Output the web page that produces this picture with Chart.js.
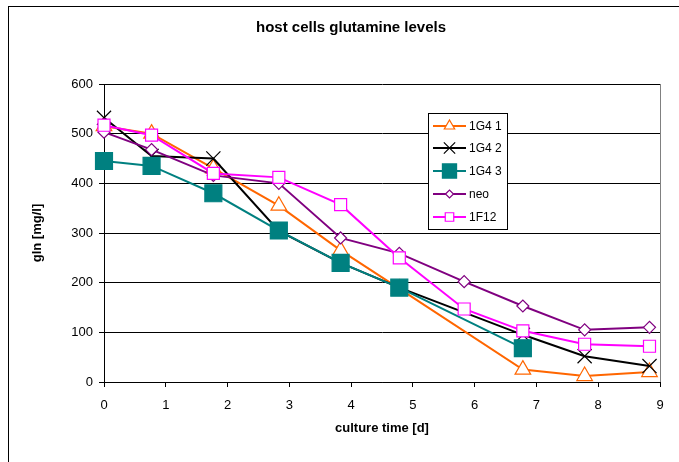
<!DOCTYPE html>
<html lang="en">
<head>
  <meta charset="UTF-8" />
  <title>host cells glutamine levels</title>
  <script src="https://cdn.jsdelivr.net/npm/chart.js"></script>
  <style>
    body {
      margin: 0;
      background: #fff;
    }
    canvas {
      display: block;
    }
  </style>
</head>
<body>
  <canvas id="glnChart" width="679" height="462"></canvas>

  <script>
    // culture time [d] for each sample
    const days = [0, 0.77, 1.77, 2.83, 3.83, 4.78, 5.83, 6.78, 7.78, 8.83];

    // null = no sample on that day
    const g41 = [515, 500, 430, 355, 265, 188, null, 25, 12, 20];
    const g42 = [532, 455, 450, 304, 240, 190, null, 95, 52, 32];
    const g43 = [445, 435, 380, 305, 240, 190, null, 68];
    const neo = [503, 468, 416, 400, 290, 259, 202, 153, 105, 110];
    const f12 = [517, 497, 420, 412, 357, 250, 147, 103, 76, 72];

    const seriesNames = ['1G4 1', '1G4 2', '1G4 3', 'neo', '1F12'];
    const yTicks = [0, 100, 200, 300, 400, 500, 600];
    const xTicks = [0, 1, 2, 3, 4, 5, 6, 7, 8, 9];
    const chartTitle = 'host cells glutamine levels';

    function pts(vals) {
      return vals.map((v, i) => ({ x: days[i], y: v }));
    }

    // marker look per series, reused by the legend box
    const looks = [
      { color: '#FF6600', fill: '#fff', style: 'triangle', r: 9, lr: 6 },
      { color: '#000000', fill: '#fff', style: 'crossRot', r: 10, lr: 8 },
      { color: '#008080', fill: '#008080', style: 'rect', r: 12, lr: 10 },
      { color: '#800080', fill: '#fff', style: 'rectRot', r: 6, lr: 4 },
      { color: '#FF00FF', fill: '#fff', style: 'rect', r: 8.5, lr: 6 }
    ];

    const allData = [g41, g42, g43, neo, f12];

    const datasets = allData.map((vals, i) => ({
      label: seriesNames[i],
      data: pts(vals),
      borderColor: looks[i].color,
      backgroundColor: looks[i].fill,
      pointStyle: looks[i].style,
      pointRadius: looks[i].r,
      pointHoverRadius: looks[i].r,
      pointBorderColor: looks[i].color,
      pointBackgroundColor: looks[i].fill,
      pointBorderWidth: 1.2,
      borderWidth: 2,
      tension: 0,
      fill: false,
      spanGaps: true,
      clip: false,
      order: 5 - i
    }));

    // frame, title, right border of plot and the boxed legend
    const extras = {
      id: 'extras',
      beforeDraw(chart) {
        const ctx = chart.ctx;
        ctx.save();
        ctx.fillStyle = '#fff';
        ctx.fillRect(0, 0, chart.width, chart.height);
        ctx.strokeStyle = '#000';
        ctx.lineWidth = 1;
        ctx.strokeRect(8.5, 6.5, 800, 600);
        ctx.fillStyle = '#000';
        ctx.font = 'bold 15px "Liberation Sans", Arial, sans-serif';
        ctx.textAlign = 'center';
        ctx.textBaseline = 'middle';
        ctx.fillText(chartTitle, 351, 28);
        ctx.restore();
      },
      afterDatasetsDraw(chart) {
        const ctx = chart.ctx;
        const a = chart.chartArea;
        ctx.save();
        ctx.strokeStyle = '#808080';
        ctx.lineWidth = 1;
        ctx.beginPath();
        ctx.moveTo(Math.round(a.right) + 0.5, a.top);
        ctx.lineTo(Math.round(a.right) + 0.5, a.bottom);
        ctx.stroke();

        // legend
        const bx = 428, by = 113, bw = 79, bh = 116;
        ctx.fillStyle = '#fff';
        ctx.fillRect(bx, by, bw, bh);
        ctx.strokeStyle = '#000';
        ctx.strokeRect(bx + 0.5, by + 0.5, bw, bh);
        const rows = [126, 148, 171, 194, 217];
        ctx.font = '12px "Liberation Sans", Arial, sans-serif';
        ctx.textBaseline = 'middle';
        seriesNames.forEach((name, i) => {
          const L = looks[i];
          const y = rows[i];
          ctx.strokeStyle = L.color;
          ctx.lineWidth = 2;
          ctx.beginPath();
          ctx.moveTo(433, y);
          ctx.lineTo(466, y);
          ctx.stroke();
          ctx.fillStyle = L.fill;
          ctx.lineWidth = 1.2;
          Chart.helpers.drawPoint(ctx, { pointStyle: L.style, radius: L.lr, rotation: 0, borderWidth: 1.2 }, 449.5, y);
          ctx.fillStyle = '#000';
          ctx.fillText(name, 469, y + 1);
        });
        ctx.restore();
      }
    };

    Chart.defaults.font.family = '"Liberation Sans", Arial, sans-serif';
    Chart.defaults.font.size = 13;
    Chart.defaults.color = '#000';

    new Chart(document.getElementById('glnChart'), {
      type: 'line',
      data: { datasets: datasets },
      options: {
        responsive: false,
        animation: false,
        layout: { padding: { left: 0, right: 19, top: 84, bottom: 0 } },
        plugins: {
          legend: { display: false },
          tooltip: { enabled: false },
          title: { display: false }
        },
        scales: {
          x: {
            type: 'linear',
            min: 0,
            max: 9,
            afterBuildTicks: s => { s.ticks = xTicks.map(v => ({ value: v })); },
            afterFit: s => { s.height = 80; },
            ticks: { padding: 11, maxRotation: 0 },
            grid: { drawOnChartArea: false, color: '#000', tickLength: 5, tickColor: '#000' },
            border: { color: '#000', width: 1 },
            title: {
              display: true,
              text: 'culture time [d]',
              font: { size: 13, weight: 'bold' },
              padding: { top: 0, bottom: 26 }
            }
          },
          y: {
            min: 0,
            max: 600,
            afterBuildTicks: s => { s.ticks = yTicks.map(v => ({ value: v })); },
            afterFit: s => { s.width = 104; },
            ticks: { padding: 6 },
            grid: { color: '#000', tickLength: 5, tickColor: '#000' },
            border: { color: '#000', width: 1 },
            title: {
              display: true,
              text: 'gln [mg/l]',
              font: { size: 13, weight: 'bold' },
              padding: { top: 30, bottom: 0 }
            }
          }
        }
      },
      plugins: [extras]
    });
  </script>
</body>
</html>
